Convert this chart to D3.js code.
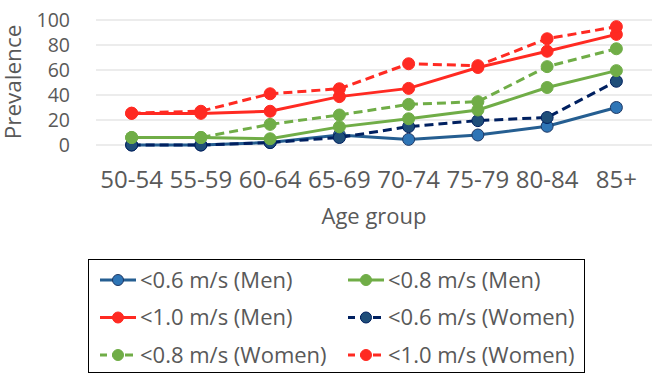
<!DOCTYPE html>
<html>
<head>
  <meta charset="utf-8">
  <script src="https://cdnjs.cloudflare.com/ajax/libs/d3/7.8.5/d3.min.js"></script>
  <title>Prevalence by age group</title>
  <style>
    body { margin: 0; background: #fff; }
    text { font-family: "Open Sans", sans-serif; fill: #595959; }
  </style>
</head>
<body>
<script>
var grupos = ["50-54","55-59","60-64","65-69","70-74","75-79","80-84","85+"];
var yTicks = [0, 20, 40, 60, 80, 100];

var hombres06 = [0, 0, 2, 8, 4.5, 8, 15, 30];
var hombres08 = [6, 6, 5, 14.5, 21, 28, 46, 59.5];
var hombres10 = [25.3, 25.3, 27, 38.7, 45.3, 62, 75, 88.5];
var mujeres06 = [0, 0, 2, 6, 14.7, 19.5, 22, 51];
var mujeres08 = [6, 6, 16.5, 24, 32.5, 34.7, 62.7, 77];
var mujeres10 = [25.5, 27, 41, 45, 65, 63.5, 85, 94.7];

var series = [
  {nombre: "<0.6 m/s (Men)",   vals: hombres06, linea: "#255e91", relleno: "#2e75b6", borde: "#1f3864", dash: null},
  {nombre: "<0.8 m/s (Men)",   vals: hombres08, linea: "#70ad47", relleno: "#70ad47", borde: "#70ad47", dash: null},
  {nombre: "<1.0 m/s (Men)",   vals: hombres10, linea: "#ff2a22", relleno: "#ff2a22", borde: "#ff2a22", dash: null},
  {nombre: "<0.6 m/s (Women)", vals: mujeres06, linea: "#002060", relleno: "#1f4e79", borde: "#002060", dash: "9,5"},
  {nombre: "<0.8 m/s (Women)", vals: mujeres08, linea: "#70ad47", relleno: "#70ad47", borde: "#70ad47", dash: "9,5"},
  {nombre: "<1.0 m/s (Women)", vals: mujeres10, linea: "#ff2a22", relleno: "#ff2a22", borde: "#ff2a22", dash: "9,5"}
];

var svg = d3.select("body").append("svg")
  .attr("width", 658)
  .attr("height", 385);

var x = d3.scaleBand().domain(grupos).range([97, 651]);
var y = d3.scaleLinear().domain([0, 100]).range([145, 20]);

// grid
svg.append("g").selectAll("line").data(yTicks).enter().append("line")
  .attr("x1", 96).attr("x2", 652)
  .attr("y1", function(d) { return y(d); })
  .attr("y2", function(d) { return y(d); })
  .attr("stroke", "#d9d9d9")
  .attr("stroke-width", 1);

// y labels
svg.append("g").selectAll("text").data(yTicks).enter().append("text")
  .attr("x", 70)
  .attr("y", function(d) { return y(d); })
  .attr("dy", "0.36em")
  .attr("text-anchor", "end")
  .attr("font-size", 19.5)
  .text(function(d) { return d; });

// x labels
svg.append("g").selectAll("text").data(grupos).enter().append("text")
  .attr("x", function(d) { return x(d) + x.bandwidth() / 2; })
  .attr("y", 188)
  .attr("text-anchor", "middle")
  .attr("font-size", 24)
  .text(function(d) { return d; });

svg.append("text")
  .attr("transform", "translate(21,82) rotate(-90)")
  .attr("text-anchor", "middle")
  .attr("font-size", 22.5)
  .text("Prevalence");

svg.append("text")
  .attr("x", 374)
  .attr("y", 224)
  .attr("text-anchor", "middle")
  .attr("font-size", 22)
  .text("Age group");

var linea = d3.line()
  .x(function(d, i) { return x(grupos[i]) + x.bandwidth() / 2; })
  .y(function(d) { return y(d); });

var orden = [0, 3, 1, 4, 2, 5];
orden.forEach(function(k) {
  var s = series[k];
  var g = svg.append("g");
  g.append("path")
    .attr("d", linea(s.vals))
    .attr("fill", "none")
    .attr("stroke", s.linea)
    .attr("stroke-width", 3)
    .attr("stroke-dasharray", s.dash);
  g.selectAll("circle").data(s.vals).enter().append("circle")
    .attr("cx", function(d, i) { return x(grupos[i]) + x.bandwidth() / 2; })
    .attr("cy", function(d) { return y(d); })
    .attr("r", 6)
    .attr("fill", s.relleno)
    .attr("stroke", s.borde)
    .attr("stroke-width", 1);
});

// legend
var ley = svg.append("g");
ley.append("rect")
  .attr("x", 88.5).attr("y", 259.5)
  .attr("width", 496).attr("height", 113)
  .attr("fill", "none")
  .attr("stroke", "#000")
  .attr("stroke-width", 1);

var item = ley.selectAll("g.item").data(series).enter().append("g")
  .attr("transform", function(d, i) {
    return "translate(" + (i % 2 === 0 ? 100 : 348) + "," + (280 + Math.floor(i / 2) * 37.5) + ")";
  });
item.append("line")
  .attr("x1", 0).attr("x2", 36)
  .attr("stroke", function(d) { return d.linea; })
  .attr("stroke-width", 3)
  .attr("stroke-dasharray", function(d) { return d.dash ? "8,5" : null; })
  .attr("stroke-dashoffset", function(d) { return d.dash ? 1 : null; });
item.append("circle")
  .attr("cx", 18)
  .attr("r", 5.5)
  .attr("fill", function(d) { return d.relleno; })
  .attr("stroke", function(d) { return d.borde; })
  .attr("stroke-width", 1);
item.append("text")
  .attr("x", 40)
  .attr("dy", "0.36em")
  .attr("font-size", 22)
  .text(function(d) { return d.nombre; });
</script>
</body>
</html>
